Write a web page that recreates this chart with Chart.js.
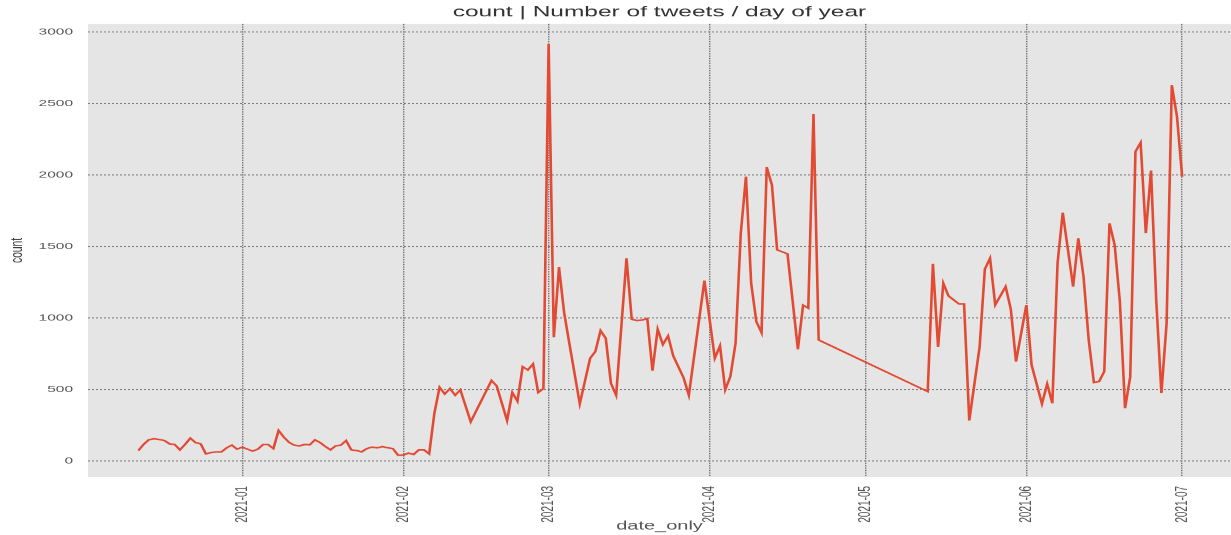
<!DOCTYPE html>
<html>
<head>
<meta charset="utf-8">
<script src="https://cdn.jsdelivr.net/npm/chart.js@4/dist/chart.umd.min.js"></script>
<style>
  html, body { margin: 0; padding: 0; background: #fff; overflow: hidden; }
  #wrap { width: 1231px; height: 535px; overflow: hidden; }
  /* the source picture is squashed vertically; draw tall and squash it the same way */
  #chart { transform: scaleY(0.6059); transform-origin: 0 0; }
</style>
</head>
<body>
<div id="wrap"><canvas id="chart" width="1231" height="883"></canvas></div>
<script>
// tweets per day
const dates = [
  '2020-12-12', '2020-12-13', '2020-12-14', '2020-12-15', '2020-12-16', '2020-12-17', '2020-12-18',
  '2020-12-19', '2020-12-20', '2020-12-21', '2020-12-22', '2020-12-23', '2020-12-24', '2020-12-25',
  '2020-12-26', '2020-12-27', '2020-12-28', '2020-12-29', '2020-12-30', '2020-12-31',
  '2021-01-01', '2021-01-02', '2021-01-03', '2021-01-04', '2021-01-05', '2021-01-06', '2021-01-07',
  '2021-01-08', '2021-01-09', '2021-01-10', '2021-01-11', '2021-01-12', '2021-01-13', '2021-01-14',
  '2021-01-15', '2021-01-16', '2021-01-17', '2021-01-18', '2021-01-19', '2021-01-20', '2021-01-21',
  '2021-01-22', '2021-01-23', '2021-01-24', '2021-01-25', '2021-01-26', '2021-01-27', '2021-01-28',
  '2021-01-29', '2021-01-30', '2021-01-31',
  '2021-02-01', '2021-02-02', '2021-02-03', '2021-02-04', '2021-02-05', '2021-02-06', '2021-02-07',
  '2021-02-08', '2021-02-09', '2021-02-10', '2021-02-11', '2021-02-12', '2021-02-14', '2021-02-18',
  '2021-02-19', '2021-02-21', '2021-02-22', '2021-02-23', '2021-02-24', '2021-02-25', '2021-02-26',
  '2021-02-27', '2021-02-28',
  '2021-03-01', '2021-03-02', '2021-03-03', '2021-03-04', '2021-03-05', '2021-03-07', '2021-03-09',
  '2021-03-10', '2021-03-11', '2021-03-12', '2021-03-13', '2021-03-14', '2021-03-16', '2021-03-17',
  '2021-03-18', '2021-03-19', '2021-03-20', '2021-03-21', '2021-03-22', '2021-03-23', '2021-03-24',
  '2021-03-25', '2021-03-27', '2021-03-28', '2021-03-31',
  '2021-04-02', '2021-04-03', '2021-04-04', '2021-04-05', '2021-04-06', '2021-04-07', '2021-04-08',
  '2021-04-09', '2021-04-10', '2021-04-11', '2021-04-12', '2021-04-13', '2021-04-14', '2021-04-16',
  '2021-04-18', '2021-04-19', '2021-04-20', '2021-04-21', '2021-04-22',
  '2021-05-13', '2021-05-14', '2021-05-15', '2021-05-16', '2021-05-17', '2021-05-19', '2021-05-20',
  '2021-05-21', '2021-05-23', '2021-05-24', '2021-05-25', '2021-05-26', '2021-05-28', '2021-05-29',
  '2021-05-30',
  '2021-06-01', '2021-06-02', '2021-06-04', '2021-06-05', '2021-06-06', '2021-06-07', '2021-06-08',
  '2021-06-10', '2021-06-11', '2021-06-12', '2021-06-13', '2021-06-14', '2021-06-15', '2021-06-16',
  '2021-06-17', '2021-06-18', '2021-06-19', '2021-06-20', '2021-06-21', '2021-06-22', '2021-06-23',
  '2021-06-24', '2021-06-25', '2021-06-26', '2021-06-27', '2021-06-28', '2021-06-29', '2021-06-30',
  '2021-07-01'
]

const counts = [
  72, 115, 147, 155, 150, 142, 119,
  114, 77, 115, 159, 128, 119, 49,
  58, 63, 63, 91, 110, 82,
  96, 82, 68, 82, 114, 114, 86,
  212, 166, 130, 110, 105, 114, 112,
  147, 128, 100, 77, 105, 110, 142,
  77, 72, 63, 86, 96, 91, 100,
  91, 86, 40,
  40, 54, 44, 77, 77, 49, 333,
  515, 468, 506, 459, 497, 273, 562,
  524, 282, 478, 417, 659, 636, 678,
  478, 506,
  2916, 865, 1354, 1033, 820, 399, 718,
  765, 911, 858, 543, 459, 1417, 991,
  981, 985, 995, 631, 921, 813, 874,
  734, 580, 459, 1261,
  718, 804, 497, 590, 823, 1592, 1988,
  1243, 974, 897, 2054, 1930, 1476, 1448,
  781, 1089, 1068, 2427, 846,
  485, 1378, 795, 1243, 1154, 1098, 1098,
  282, 799, 1341, 1417, 1091, 1219, 1061,
  695,
  1091, 671, 399, 538, 403, 1382, 1737,
  1219, 1557, 1289, 846, 548, 555, 625,
  1662, 1510, 1114, 368, 590, 2163, 2226,
  1592, 2030, 1126, 473, 963, 2629, 2408,
  1988
]

const xTickLabels = ['2021-01', '2021-02', '2021-03', '2021-04', '2021-05', '2021-06', '2021-07']
const yTicks = [0, 500, 1000, 1500, 2000, 2500, 3000]

// days since 2021-01-01, so a linear scale can stand in for a time axis
const DAY = 86400000
const origin = Date.UTC(2021, 0, 1)
const toDay = (s) => {
  let [y, m, d] = s.split('-').map(Number)
  return (Date.UTC(y, m - 1, d || 1) - origin) / DAY
}

const points = dates.map((d, i) => ({ x: toDay(d), y: counts[i] }))
const xTickDays = xTickLabels.map(toDay)

const plotBackground = {
  id: 'plotBackground',
  beforeDraw(chart) {
    let { ctx, chartArea: a } = chart
    ctx.save()
    ctx.fillStyle = '#e5e5e5'
    ctx.fillRect(a.left, a.top, a.right - a.left, a.bottom - a.top)
    ctx.restore()
  }
}

const font = 'Liberation Sans'

const grid = {
  color: '#666',
  lineWidth: 1.4,
  drawTicks: false
}

new Chart(document.getElementById('chart'), {
  type: 'line',
  data: {
    datasets: [{
      data: points,
      borderColor: '#e24a33',
      borderWidth: 2.6,
      pointRadius: 0,
      tension: 0,
      fill: false
    }]
  },
  options: {
    responsive: false,
    animation: false,
    layout: { padding: 0 },
    plugins: {
      legend: { display: false },
      tooltip: { enabled: false },
      title: {
        display: true,
        text: 'count | Number of tweets / day of year',
        fullSize: false,
        color: '#333',
        font: { family: font, size: 24.5, weight: 'normal' },
        padding: { top: 6, bottom: 4.2 }
      }
    },
    scales: {
      x: {
        type: 'linear',
        min: -29.7,
        max: 190.4,
        border: { display: false, dash: [2, 2] },
        grid,
        afterBuildTicks(axis) {
          axis.ticks = xTickDays.map((v) => ({ value: v }))
        },
        afterFit(axis) { axis.height = 96 },
        ticks: {
          minRotation: 90,
          maxRotation: 90,
          padding: 15,
          color: '#555',
          font: { family: font, size: 16.5 },
          callback: (v) => xTickLabels[xTickDays.indexOf(v)]
        },
        title: {
          display: true,
          text: 'date_only',
          color: '#555',
          font: { family: font, size: 20 },
          padding: { top: 0, bottom: 3 }
        }
      },
      y: {
        min: -112,
        max: 3056,
        border: { display: false, dash: [2, 2] },
        grid,
        afterBuildTicks(axis) {
          axis.ticks = yTicks.map((v) => ({ value: v }))
        },
        afterFit(axis) { axis.width = 88 },
        ticks: {
          padding: 15,
          color: '#555',
          font: { family: font, size: 15.5 },
          callback: (v) => String(v)
        },
        title: {
          display: true,
          text: 'count',
          color: '#333',
          font: { family: font, size: 17 },
          padding: { top: 7, bottom: 0 }
        }
      }
    }
  },
  plugins: [plotBackground]
})
</script>
</body>
</html>
